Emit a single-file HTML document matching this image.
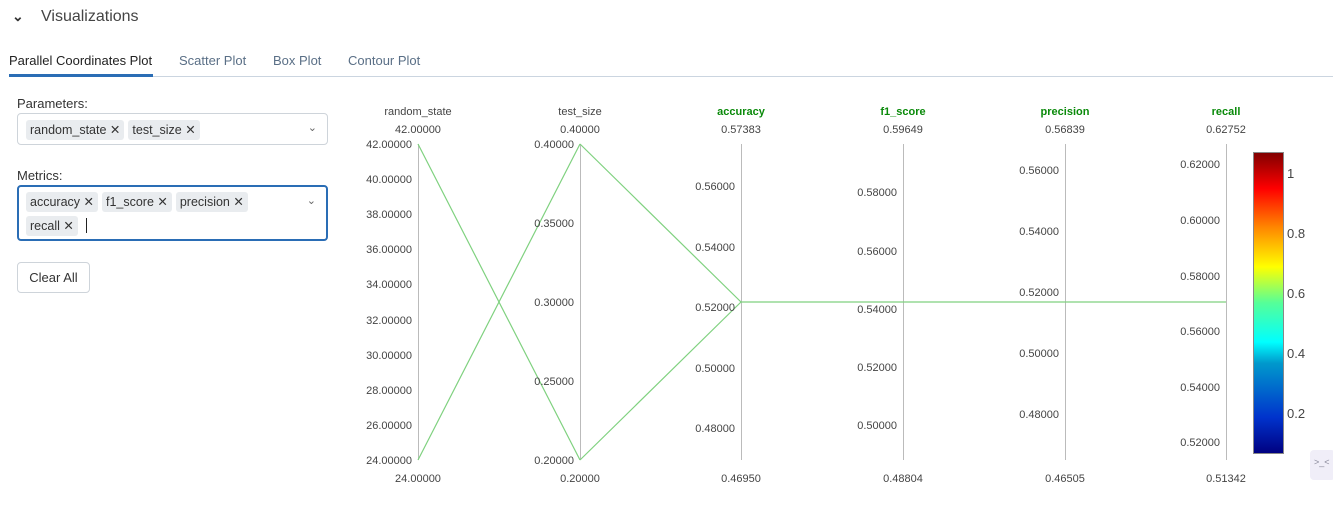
<!DOCTYPE html>
<html><head><meta charset="utf-8"><style>
body{margin:0;width:1333px;height:522px;background:#fff;font-family:"Liberation Sans",sans-serif;position:relative;overflow:hidden;color:#333}
.abs{position:absolute}
.chip{display:inline-block;background:#e9ecef;border-radius:3px;padding:1px 4px;font-size:12.5px;color:#333;margin-right:4px;line-height:18px}
.box{position:absolute;left:17px;width:311px;border:1px solid #ced4da;border-radius:4px;box-sizing:border-box}
</style></head><body>
<div class="abs" style="left:12px;top:8px;font-size:14px;font-weight:bold">&#8964;</div>
<div class="abs" style="left:41px;top:8px;font-size:16px;color:#444">Visualizations</div>
<div class="abs" style="left:9px;top:53px;font-size:13px;color:#222">Parallel Coordinates Plot</div>
<div class="abs" style="left:179px;top:53px;font-size:13px;color:#5a6f86">Scatter Plot</div>
<div class="abs" style="left:273px;top:53px;font-size:13px;color:#5a6f86">Box Plot</div>
<div class="abs" style="left:348px;top:53px;font-size:13px;color:#5a6f86">Contour Plot</div>
<div class="abs" style="left:9px;top:76px;width:1329px;height:1px;background:#cbd5e0"></div>
<div class="abs" style="left:9px;top:74px;width:144px;height:3px;background:#2a6db5"></div>
<div class="abs" style="left:17px;top:96px;font-size:13px">Parameters:</div>
<div class="box" style="top:113px;height:32px;padding:6px 8px"><span class="chip">random_state ✕</span><span class="chip">test_size ✕</span><span class="abs" style="right:10px;top:7px;font-size:11px;color:#666">&#8964;</span></div>
<div class="abs" style="left:17px;top:168px;font-size:13px">Metrics:</div>
<div class="box" style="top:185px;height:56px;border:2px solid #2a6db5;padding:5px 7px"><span class="chip">accuracy ✕</span><span class="chip">f1_score ✕</span><span class="chip">precision ✕</span><br><span class="chip" style="margin-top:4px">recall ✕</span><span style="display:inline-block;width:1px;height:15px;background:#222;vertical-align:middle;margin-left:4px"></span><span class="abs" style="right:10px;top:7px;font-size:11px;color:#666">&#8964;</span></div>
<div class="abs" style="left:17px;top:262px;width:73px;height:31px;border:1px solid #ced4da;border-radius:4px;box-sizing:border-box;font-size:13px;text-align:center;line-height:29px">Clear All</div>
<svg class="abs" style="left:0;top:0" width="1333" height="522" font-family="Liberation Sans, sans-serif">
<defs><linearGradient id="jet" x1="0" y1="1" x2="0" y2="0">
<stop offset="0" stop-color="#000080"/><stop offset="0.12" stop-color="#0033cc"/><stop offset="0.3" stop-color="#0099cc"/><stop offset="0.37" stop-color="#00ffff"/><stop offset="0.5" stop-color="#55ff99"/><stop offset="0.62" stop-color="#ffff00"/><stop offset="0.75" stop-color="#ff8800"/><stop offset="0.88" stop-color="#ff0000"/><stop offset="1" stop-color="#800000"/></linearGradient></defs>
<g stroke="#bbb" stroke-width="1">
<line x1="418.5" y1="144" x2="418.5" y2="460"/><line x1="580.5" y1="144" x2="580.5" y2="460"/><line x1="741.5" y1="144" x2="741.5" y2="460"/><line x1="903.5" y1="144" x2="903.5" y2="460"/><line x1="1065.5" y1="144" x2="1065.5" y2="460"/><line x1="1226.5" y1="144" x2="1226.5" y2="460"/>
</g>
<g stroke="#7fd17f" stroke-width="1.2" fill="none">
<line x1="418" y1="144" x2="580" y2="460"/><line x1="418" y1="460" x2="580" y2="144"/>
<line x1="580" y1="144" x2="741" y2="302"/><line x1="580" y1="460" x2="741" y2="302"/>
<line x1="741" y1="302" x2="1226" y2="302"/></g>
<g font-size="11" fill="#444" text-anchor="end">
<text x="412" y="148">42.00000</text><text x="412" y="183">40.00000</text><text x="412" y="218">38.00000</text><text x="412" y="253">36.00000</text><text x="412" y="288">34.00000</text><text x="412" y="324">32.00000</text><text x="412" y="359">30.00000</text><text x="412" y="394">28.00000</text><text x="412" y="429">26.00000</text><text x="412" y="464">24.00000</text>
<text x="574" y="148">0.40000</text><text x="574" y="227">0.35000</text><text x="574" y="306">0.30000</text><text x="574" y="385">0.25000</text><text x="574" y="464">0.20000</text>
<text x="735" y="190">0.56000</text><text x="735" y="251">0.54000</text><text x="735" y="311">0.52000</text><text x="735" y="372">0.50000</text><text x="735" y="432">0.48000</text>
<text x="897" y="196">0.58000</text><text x="897" y="255">0.56000</text><text x="897" y="313">0.54000</text><text x="897" y="371">0.52000</text><text x="897" y="429">0.50000</text>
<text x="1059" y="174">0.56000</text><text x="1059" y="235">0.54000</text><text x="1059" y="296">0.52000</text><text x="1059" y="357">0.50000</text><text x="1059" y="418">0.48000</text>
<text x="1220" y="168">0.62000</text><text x="1220" y="224">0.60000</text><text x="1220" y="280">0.58000</text><text x="1220" y="335">0.56000</text><text x="1220" y="391">0.54000</text><text x="1220" y="446">0.52000</text>
</g>
<g font-size="11" fill="#444" text-anchor="middle">
<text x="418" y="115">random_state</text><text x="580" y="115">test_size</text>
<text x="418" y="133">42.00000</text><text x="580" y="133">0.40000</text><text x="741" y="133">0.57383</text><text x="903" y="133">0.59649</text><text x="1065" y="133">0.56839</text><text x="1226" y="133">0.62752</text>
<text x="418" y="482">24.00000</text><text x="580" y="482">0.20000</text><text x="741" y="482">0.46950</text><text x="903" y="482">0.48804</text><text x="1065" y="482">0.46505</text><text x="1226" y="482">0.51342</text>
<g fill="#0a8a0a" font-weight="bold"><text x="741" y="115">accuracy</text><text x="903" y="115">f1_score</text><text x="1065" y="115">precision</text><text x="1226" y="115">recall</text></g>
</g>
<rect x="1253.5" y="152.5" width="30" height="301" fill="url(#jet)" stroke="#888"/>
<g font-size="13" fill="#444"><text x="1287" y="178">1</text><text x="1287" y="238">0.8</text><text x="1287" y="298">0.6</text><text x="1287" y="358">0.4</text><text x="1287" y="418">0.2</text></g>
<rect x="1310" y="450" width="25" height="30" rx="4" fill="#f0eef8"/><text x="1314" y="465" font-size="9" fill="#889">&gt;_&lt;</text>
</svg>
</body></html>
